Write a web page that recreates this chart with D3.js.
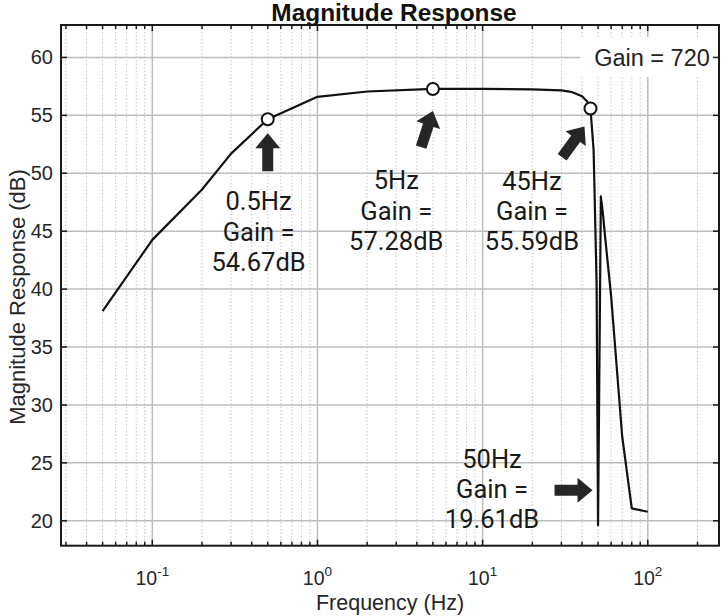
<!DOCTYPE html>
<html>
<head>
<meta charset="utf-8">
<script src="https://cdn.jsdelivr.net/npm/d3@7"></script>
<style>
  html, body { margin: 0; padding: 0; background: #fff; }
  svg { display: block; }
</style>
</head>
<body>
<svg id="chart" width="723" height="616"></svg>
<script>
// ---- Data ----
const freqHz = [0.05, 0.1, 0.2, 0.3, 0.5, 1, 2, 5, 10, 20, 30, 35, 40, 43, 45, 47, 49, 50, 52, 53.7, 55, 60, 70, 80, 100];
const magDb  = [38.1, 44.25, 48.6, 51.7, 54.67, 56.6, 57.06, 57.28, 57.28, 57.25, 57.15, 57.0, 56.65, 56.2, 55.59, 52.0, 40.5, 19.61, 48.0, 46.3, 44.7, 39.4, 27.3, 21.07, 20.78];

const markerFreq = [0.5, 5, 45];
const markerDb   = [54.67, 57.28, 55.59];

const annotationLines = [
  ["0.5Hz", "Gain =", "54.67dB"],
  ["5Hz", "Gain =", "57.28dB"],
  ["45Hz", "Gain =", "55.59dB"],
  ["50Hz", "Gain =", "19.61dB"]
];
const annotationFreq = [0.44, 3.0, 19.9, 11.4];
const annotationDb   = [47.58, 49.39, 49.35, 25.37];

const yTicks = [20, 25, 30, 35, 40, 45, 50, 55, 60];
const xTickExps = [-1, 0, 1, 2];
const legendText = "Gain = 720";
const titleText = "Magnitude Response";
const xLabel = "Frequency (Hz)";
const yLabel = "Magnitude Response (dB)";

// ---- Layout ----
const svg = d3.select("#chart");
const pLeft = 61, pRight = 719, pTop = 25, pBottom = 545.7;

const x = d3.scaleLog().domain([0.028, 270]).range([pLeft, pRight]);
const y = d3.scaleLinear().domain([17.85, 62.8]).range([pBottom, pTop]);

svg.append("rect").attr("width", 723).attr("height", 616).attr("fill", "#fff");

// minor grid
const minorVals = [];
for (let d = -2; d <= 2; d++) {
  for (let m = 2; m <= 9; m++) {
    const v = m * Math.pow(10, d);
    if (v > 0.028 && v < 270) minorVals.push(v);
  }
}
const majorVals = xTickExps.map(e => Math.pow(10, e));

const grid = svg.append("g");
grid.selectAll("line.minor").data(minorVals).enter().append("line")
  .attr("x1", d => x(d)).attr("x2", d => x(d))
  .attr("y1", pTop).attr("y2", pBottom)
  .attr("stroke", "#c4c4c4").attr("stroke-width", 1)
  .attr("stroke-dasharray", "1.5,2");
grid.selectAll("line.majx").data(majorVals).enter().append("line")
  .attr("x1", d => x(d)).attr("x2", d => x(d))
  .attr("y1", pTop).attr("y2", pBottom)
  .attr("stroke", "#bdbdbd").attr("stroke-width", 1.5);
grid.selectAll("line.majy").data(yTicks).enter().append("line")
  .attr("x1", pLeft).attr("x2", pRight)
  .attr("y1", d => y(d)).attr("y2", d => y(d))
  .attr("stroke", "#bdbdbd").attr("stroke-width", 1.5);

// legend box (white, covers grid)
const legend = svg.append("g");
legend.append("rect").attr("x", 580).attr("y", 37).attr("width", 137).attr("height", 40).attr("fill", "#fff");
legend.append("text").attr("x", 652).attr("y", 58)
  .attr("text-anchor", "middle").attr("dominant-baseline", "central")
  .attr("font-family", "Liberation Sans, Arial, sans-serif").attr("font-size", 23.5)
  .attr("fill", "#222").text(legendText);

// curve
const pts = freqHz.map((f, i) => [f, magDb[i]]);
svg.append("path").datum(pts)
  .attr("d", d3.line().x(d => x(d[0])).y(d => y(d[1])))
  .attr("fill", "none").attr("stroke", "#111").attr("stroke-width", 2.2)
  .attr("stroke-linejoin", "round");

// markers
svg.selectAll("circle.mk").data(markerFreq).enter().append("circle")
  .attr("cx", d => x(d)).attr("cy", (d, i) => y(markerDb[i]))
  .attr("r", 6).attr("fill", "#fff").attr("stroke", "#111").attr("stroke-width", 2);

// frame
svg.append("rect").attr("x", pLeft).attr("y", pTop)
  .attr("width", pRight - pLeft).attr("height", pBottom - pTop)
  .attr("fill", "none").attr("stroke", "#1a1a1a").attr("stroke-width", 2);

// ticks (inside)
const tk = svg.append("g").attr("stroke", "#1a1a1a").attr("stroke-width", 1.5);
majorVals.concat(minorVals).forEach(v => {
  const len = majorVals.includes(v) ? 6 : 4;
  tk.append("line").attr("x1", x(v)).attr("x2", x(v)).attr("y1", pBottom).attr("y2", pBottom - len);
  tk.append("line").attr("x1", x(v)).attr("x2", x(v)).attr("y1", pTop).attr("y2", pTop + len);
});
yTicks.forEach(v => {
  tk.append("line").attr("x1", pLeft).attr("x2", pLeft + 6).attr("y1", y(v)).attr("y2", y(v));
  tk.append("line").attr("x1", pRight).attr("x2", pRight - 6).attr("y1", y(v)).attr("y2", y(v));
});

// y tick labels
svg.append("g").selectAll("text").data(yTicks).enter().append("text")
  .attr("x", 53).attr("y", d => y(d))
  .attr("text-anchor", "end").attr("dominant-baseline", "central")
  .attr("font-family", "Liberation Sans, Arial, sans-serif").attr("font-size", 20)
  .attr("fill", "#262626").text(d => d);

// x tick labels
const xl = svg.append("g");
xTickExps.forEach(e => {
  const t = xl.append("text").attr("x", x(Math.pow(10, e))).attr("y", 585)
    .attr("text-anchor", "middle")
    .attr("font-family", "Liberation Sans, Arial, sans-serif").attr("font-size", 19.5)
    .attr("fill", "#262626");
  t.append("tspan").text("10");
  t.append("tspan").attr("dy", -9).attr("font-size", 13.5).text(String(e));
});

// axis labels
svg.append("text").attr("x", 390).attr("y", 603)
  .attr("text-anchor", "middle").attr("dominant-baseline", "central")
  .attr("font-family", "Liberation Sans, Arial, sans-serif").attr("font-size", 21.5)
  .attr("fill", "#262626").text(xLabel);
svg.append("text")
  .attr("transform", "translate(17,297) rotate(-90)")
  .attr("text-anchor", "middle").attr("dominant-baseline", "central")
  .attr("font-family", "Liberation Sans, Arial, sans-serif").attr("font-size", 22)
  .attr("fill", "#262626").text(yLabel);

// title
svg.append("text").attr("x", 394).attr("y", 12)
  .attr("text-anchor", "middle").attr("dominant-baseline", "central")
  .attr("font-family", "Liberation Sans, Arial, sans-serif").attr("font-weight", "bold").attr("font-size", 24.4)
  .attr("fill", "#111").text(titleText);

// annotation texts
annotationLines.forEach((lines, i) => {
  const cx = x(annotationFreq[i]), cy = y(annotationDb[i]);
  lines.forEach((s, j) => {
    svg.append("text").attr("x", cx).attr("y", cy + j * 30.3)
      .attr("text-anchor", "middle").attr("dominant-baseline", "central")
      .attr("font-family", "Roboto, sans-serif").attr("font-size", 25.5)
      .attr("fill", "#1a1a1a").text(s);
  });
});

// block arrows: tip positions relative to annotated points
const arrowFreq = [0.5, 5, 45, 50];
const arrowDb = [54.67, 57.28, 55.59, 19.61];
const arrowTipDx = [0, 0, -6, -5.5];
const arrowTipDy = [14, 22, 18, -35];
const arrowAngle = [-90, -72, -54, 0];
function arrowPath(L, hl, hw, sw) {
  return `M0,0 L${-hl},${-hw/2} L${-hl},${-sw/2} L${-L},${-sw/2} L${-L},${sw/2} L${-hl},${sw/2} L${-hl},${hw/2} Z`;
}
arrowFreq.forEach((f, i) => {
  const tx = x(f) + arrowTipDx[i], ty = y(arrowDb[i]) + arrowTipDy[i];
  svg.append("path").attr("d", arrowPath(38, 15, 25, 11))
    .attr("transform", `translate(${tx},${ty}) rotate(${arrowAngle[i]})`)
    .attr("fill", "#262626");
});
</script>
</body>
</html>
